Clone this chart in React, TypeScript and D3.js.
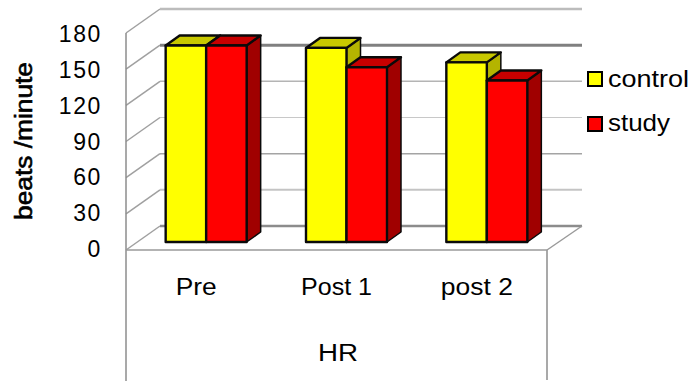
import React from "react";
import * as d3 from "d3";

const categories = ["Pre", "Post 1", "post 2"];
const seriesNames = ["control", "study"];
const control = [163, 161, 149];
const study = [163, 145, 134];
const yTicks = [0, 30, 60, 90, 120, 150, 180];
const gridColours = ["#8c8c8c", "#c4c4c4", "#a4a4a4", "#c8c8c8", "#b4b4b4", "#808080", "#bcbcbc"];
const gridWidths = [2.5, 2, 1.5, 1, 1.5, 3, 2.5];
const legendLabelWidths = [81, 62];
const categoryLabelWidths = [41, 71, 72];

const W = 692;
const H = 381;
const FONT = "'Liberation Sans', Arial, sans-serif";

// Oblique offset between the front plane of the box and its back wall.
const wallDx = 34;
const wallDy = 24;
const frontLeft = 126;
const frontRight = 547;
const frontFloor = 250;
const barFloor = 242;
const barShift = 10;
const barDepthX = 14;
const barDepthY = 10;
const plotHeight = 217;
const tickLabelBase = 257;
const tickLabelSpan = 215;

const yScale = d3.scaleLinear().domain([0, 180]).range([0, plotHeight]);
const tickLabelScale = d3.scaleLinear().domain([0, 180]).range([tickLabelBase, tickLabelBase - tickLabelSpan]);
const xBand = d3.scaleBand<string>().domain(categories).range([frontLeft, frontRight]);
const seriesBand = d3.scaleBand<string>().domain(seriesNames).range([-40.5, 40.5]);

const palette: Record<string, { front: string; top: string; side: string }> = {
  control: { front: "#ffff00", top: "#c8c800", side: "#b4b400" },
  study: { front: "#ff0000", top: "#c80000", side: "#a00000" },
};
const seriesValues: Record<string, number[]> = { control, study };

function Label(props: {
  x: number;
  y: number;
  width?: number;
  size?: number;
  anchor?: string;
  transform?: string;
  weight?: number;
  children: React.ReactNode;
}) {
  const { x, y, width, size = 23, anchor = "start", transform, weight = 0, children } = props;
  return (
    <text
      x={x}
      y={y}
      fontFamily={FONT}
      fontSize={size}
      fill="#000"
      stroke={weight ? "#000" : "none"}
      strokeWidth={weight}
      textAnchor={anchor}
      transform={transform}
      textLength={width}
      lengthAdjust={width ? "spacingAndGlyphs" : undefined}
    >
      {children}
    </text>
  );
}

function Bar({ name, category, value }: { name: string; category: string; value: number }) {
  const centre = xBand(category)! + xBand.bandwidth() / 2 + barShift;
  const x0 = centre + seriesBand(name)!;
  const x1 = x0 + seriesBand.bandwidth();
  const top = barFloor - yScale(value);
  const colours = palette[name];
  const outline = { stroke: "#0a0a0a", strokeWidth: 2.4, strokeLinejoin: "round" as const };
  return (
    <g>
      <polygon
        points={`${x1},${top} ${x1 + barDepthX},${top - barDepthY} ${x1 + barDepthX},${barFloor - barDepthY} ${x1},${barFloor}`}
        fill={colours.side}
        {...outline}
        strokeWidth={1.5}
      />
      <polygon
        points={`${x0},${top} ${x0 + barDepthX},${top - barDepthY} ${x1 + barDepthX},${top - barDepthY} ${x1},${top}`}
        fill={colours.top}
        {...outline}
      />
      <rect x={x0} y={top} width={x1 - x0} height={barFloor - top} fill={colours.front} {...outline} />
    </g>
  );
}

export default function App() {
  const line = d3.line();
  return (
    <svg
      width={W}
      height={H}
      viewBox={`0 0 ${W} ${H}`}
      style={{ position: "absolute", left: 0, top: 0, background: "#fff" }}
    >
      {/* back wall gridlines with the slanted run along the side wall */}
      {yTicks.map((t, i) => {
        const yFront = frontFloor - yScale(t);
        const yBack = yFront - wallDy;
        return (
          <g key={t}>
            <path
              d={line([[frontLeft, yFront], [frontLeft + wallDx, yBack]])!}
              stroke="#a0a0a0"
              strokeWidth={1.5}
              fill="none"
            />
            <path
              d={line([[frontLeft + wallDx, yBack], [frontRight + wallDx + 1, yBack]])!}
              stroke={gridColours[i]}
              strokeWidth={gridWidths[i]}
              fill="none"
            />
          </g>
        );
      })}

      {/* box frame: side wall edge, floor edge and the axis table below */}
      <path d={line([[frontLeft, frontFloor - plotHeight], [frontLeft, H]])!} stroke="#8c8c8c" strokeWidth={1.5} fill="none" />
      <path d={line([[frontRight, frontFloor], [frontRight, H - 1]])!} stroke="#8c8c8c" strokeWidth={1.5} fill="none" />
      <path d={line([[frontLeft, frontFloor], [frontRight, frontFloor]])!} stroke="#9a9a9a" strokeWidth={1.5} fill="none" />
      <path d={line([[frontRight, frontFloor], [frontRight + wallDx + 1, frontFloor - wallDy]])!} stroke="#9a9a9a" strokeWidth={1.5} fill="none" />

      {categories.map((c, i) => (
        <g key={c}>
          {seriesNames.map((s) => (
            <Bar key={s} name={s} category={c} value={seriesValues[s][i]} />
          ))}
        </g>
      ))}

      {yTicks.map((t) => (
        <Label key={t} x={102} y={tickLabelScale(t)} anchor="end">
          <tspan letterSpacing={1.6}>{t}</tspan>
        </Label>
      ))}

      <Label x={0} y={0} width={158} anchor="middle" weight={0.6} transform="translate(32,141) rotate(-90)">
        beats /minute
      </Label>

      {categories.map((c, i) => (
        <Label
          key={c}
          x={xBand(c)! + xBand.bandwidth() / 2 - categoryLabelWidths[i] / 2}
          y={295}
          width={categoryLabelWidths[i]}
        >
          {c}
        </Label>
      ))}
      <Label x={318} y={361} width={40}>
        HR
      </Label>

      {seriesNames.map((s, i) => (
        <g key={s}>
          <rect x={588} y={72 + i * 45} width={14} height={14} fill={palette[s].front} stroke="#000" strokeWidth={2} />
          <Label x={608} y={87 + i * 44} width={legendLabelWidths[i]} size={24}>
            {s}
          </Label>
        </g>
      ))}
    </svg>
  );
}
